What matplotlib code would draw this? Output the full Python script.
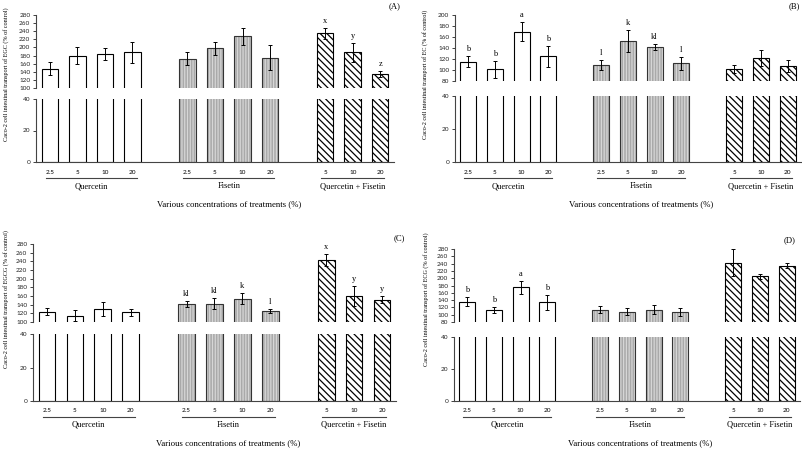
import matplotlib
matplotlib.use('Agg')
import matplotlib.pyplot as plt
from matplotlib.transforms import blended_transform_factory, offset_copy

'''
Caco-2 transport of catechins with quercetin / fisetin, broken y-axis panels
'''

W, H = 803, 449
plt.rcParams['font.family'] = 'Liberation Serif'
plt.rcParams['hatch.linewidth'] = 0.9
NUM_FONT = 'Lato'

conc_q = ['2.5', '5', '10', '20']
conc_f = ['2.5', '5', '10', '20']
conc_qf = ['5', '10', '20']
groups = ['Quercetin', 'Fisetin', 'Quercetin + Fisetin']

# panel A - EGC
egc_mean = [148, 180, 184, 188, 172, 198, 227, 175, 235, 188, 134]
egc_err = [16, 20, 14, 26, 16, 16, 21, 31, 13, 24, 8]
egc_letters = ['', '', '', '', '', '', '', '', 'x', 'y', 'z']

# panel B - EC
ec_mean = [115, 101, 170, 125, 109, 153, 142, 112, 102, 122, 108]
ec_err = [10, 15, 18, 19, 9, 20, 5, 12, 7, 14, 11]
ec_letters = ['b', 'b', 'a', 'b', 'l', 'k', 'kl', 'l', '', '', '']

# panel C - EGCG
egcg_mean = [124, 115, 131, 122, 142, 142, 154, 125, 243, 160, 151]
egcg_err = [8, 12, 16, 8, 7, 13, 12, 4, 13, 24, 8]
egcg_letters = ['', '', '', '', 'kl', 'kl', 'k', 'l', 'x', 'y', 'y']

# panel D - ECG
ecg_mean = [136, 114, 175, 134, 114, 108, 114, 107, 242, 205, 234]
ecg_err = [12, 8, 18, 20, 10, 10, 12, 11, 37, 7, 7]
ecg_letters = ['b', 'b', 'a', 'b', '', '', '', '', '', '', '']

xpos = [0, 1, 2, 3, 5, 6, 7, 8, 10, 11, 12]
kinds = ['q'] * 4 + ['f'] * 4 + ['qf'] * 3

panels = [
    dict(tag='(A)', cpd='EGC', mean=egc_mean, err=egc_err, let=egc_letters,
         x=(36, 394), up=(15, 88), low=(99, 162), ylim=(100, 280),
         ylab=(6, 74), tagpos=(395, 6)),
    dict(tag='(B)', cpd='EC', mean=ec_mean, err=ec_err, let=ec_letters,
         x=(455, 801), up=(15, 81), low=(96, 162), ylim=(80, 200),
         ylab=(425, 74), tagpos=(794, 6)),
    dict(tag='(C)', cpd='EGCG', mean=egcg_mean, err=egcg_err, let=egcg_letters,
         x=(33, 396), up=(244, 322), low=(334, 401), ylim=(100, 280),
         ylab=(6, 299), tagpos=(399, 238)),
    dict(tag='(D)', cpd='ECG', mean=ecg_mean, err=ecg_err, let=ecg_letters,
         x=(454, 800), up=(249, 322), low=(337, 401), ylim=(80, 280),
         ylab=(426, 299), tagpos=(790, 240)),
]

fig = plt.figure(figsize=(W / 100, H / 100), dpi=100)


def px_ax(x0, x1, y0, y1):
    return fig.add_axes([x0 / W, 1 - y1 / H, (x1 - x0) / W, (y1 - y0) / H])


def draw_bars(ax, mean):
    for x, m, k in zip(xpos, mean, kinds):
        if k == 'q':
            ax.bar(x, m, 0.6, color='white', edgecolor='black', linewidth=0.8)
        elif k == 'f':
            ax.bar(x, m, 0.6, color='#a9a9a9', edgecolor='#d6d6d6',
                   hatch='|' * 6, linewidth=0)
            ax.bar(x, m, 0.6, fill=False, edgecolor='#333333', linewidth=0.8)
        else:
            ax.bar(x, m, 0.6, color='white', edgecolor='black',
                   hatch='\\' * 5, linewidth=0.8)


for p in panels:
    upper = px_ax(p['x'][0], p['x'][1], *p['up'])
    lower = px_ax(p['x'][0], p['x'][1], *p['low'])
    for ax in (upper, lower):
        draw_bars(ax, p['mean'])
        ax.set_xlim(-0.5, 12.5)
        ax.set_xticks([])
        for s in ('top', 'right'):
            ax.spines[s].set_visible(False)
        ax.spines['left'].set_linewidth(0.8)
        ax.spines['left'].set_color('#444444')
        ax.tick_params(axis='y', length=2.5, width=0.6, pad=1.5,
                       labelsize=4.6, colors='#222222')
    upper.spines['bottom'].set_visible(False)
    lower.spines['bottom'].set_linewidth(0.8)
    lower.spines['bottom'].set_color('#444444')

    lo, hi = p['ylim']
    upper.set_ylim(lo, hi)
    upper.set_yticks(list(range(lo, hi + 1, 20)))
    lower.set_ylim(0, 40)
    lower.set_yticks([0, 20, 40])
    for ax in (upper, lower):
        for t in ax.get_yticklabels():
            t.set_fontfamily(NUM_FONT)

    upper.errorbar(xpos, p['mean'], yerr=p['err'], fmt='none', ecolor='black',
                   elinewidth=0.7, capsize=1.6, capthick=0.7)
    for x, m, e, l in zip(xpos, p['mean'], p['err'], p['let']):
        if l:
            upper.annotate(l, (x, m + e), xytext=(0, 3), textcoords='offset pixels',
                           ha='center', va='bottom', fontsize=6, annotation_clip=False)

    # category labels under the lower axis
    base = blended_transform_factory(lower.transData, lower.transAxes)
    t_tick = offset_copy(base, fig=fig, y=-10, units='dots')
    t_line = offset_copy(base, fig=fig, y=-16, units='dots')
    t_grp = offset_copy(base, fig=fig, y=-24, units='dots')
    t_xl = offset_copy(base, fig=fig, y=-42, units='dots')
    labels = conc_q + conc_f + conc_qf
    for x, lab in zip(xpos, labels):
        lower.text(x, 0, lab, transform=t_tick, ha='center', va='center',
                   fontsize=4.6, family=NUM_FONT)
    for (a, b), g in zip([(0, 3), (5, 8), (10, 12)], groups):
        lower.plot([a - 0.15, b + 0.15], [0, 0], transform=t_line, color='#444444',
                   linewidth=0.8, clip_on=False)
        lower.text((a + b) / 2, 0, g, transform=t_grp, ha='center', va='center',
                   fontsize=6)
    lower.text(6.5, 0, 'Various concentrations of treatments (%)', transform=t_xl,
               ha='center', va='center', fontsize=6.3)

    fig.text(p['ylab'][0] / W, 1 - p['ylab'][1] / H,
             'Caco-2 cell intestinal transport of %s (%% of control)' % p['cpd'],
             rotation=90, ha='center', va='center', fontsize=4.4)
    fig.text(p['tagpos'][0] / W, 1 - p['tagpos'][1] / H, p['tag'],
             ha='center', va='center', fontsize=6.2)

fig.savefig('out.png', dpi=100)
